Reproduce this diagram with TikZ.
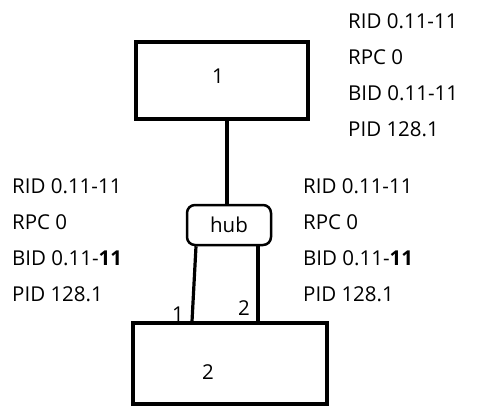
\documentclass[tikz,border=0pt]{standalone}
\usepackage{fontspec}
\setmainfont{Open Sans}
\begin{document}
\begin{tikzpicture}[x=1pt,y=-1pt,
  box/.style={draw,line width=3.2pt,inner sep=0pt},
  txt/.style={inner sep=0pt,font=\fontsize{20.5}{24}\selectfont},
  lbl/.style={txt,anchor=west},
  wire/.style={line width=3.2pt}]
\useasboundingbox (0,0) rectangle (487,416);
\node[box,minimum width=172pt,minimum height=77pt] (n1) at (222,80.5) {};
\node[txt] (t1) at (218,76) {1};
\node[box,minimum width=194pt,minimum height=81pt] (n2) at (230,363.5) {};
\node[txt] (t2) at (208,372) {2};
\node[draw,line width=2.5pt,rounded corners=8pt,minimum width=84pt,minimum height=40pt,inner sep=0pt,font=\fontsize{20.5}{24}\selectfont] (hub) at (229,225) {hub};
\coordinate (a) at (227,119);
\draw[wire] (a) -- (a |- hub.north);
\draw[wire] (hub.south -| 196,0) -- (n2.north -| 192,0);
\draw[wire] (hub.south -| 258,0) -- (n2.north -| 258,0);
\node[txt] (l1) at (178,314) {1};
\node[txt] (l2) at (244,308) {2};
\foreach \x/\y/\n/\b in {348/21/t/11, 12/186/l/\textbf{11}, 303/186/r/\textbf{11}}{
  \node[lbl] (\n a) at (\x,\y) {RID 0.11-11};
  \node[lbl] (\n b) at (\x,\y+36) {RPC 0};
  \node[lbl] (\n c) at (\x,\y+72) {BID 0.11-\b};
  \node[lbl] (\n d) at (\x,\y+108) {PID 128.1};
}
\end{tikzpicture}
\end{document}
